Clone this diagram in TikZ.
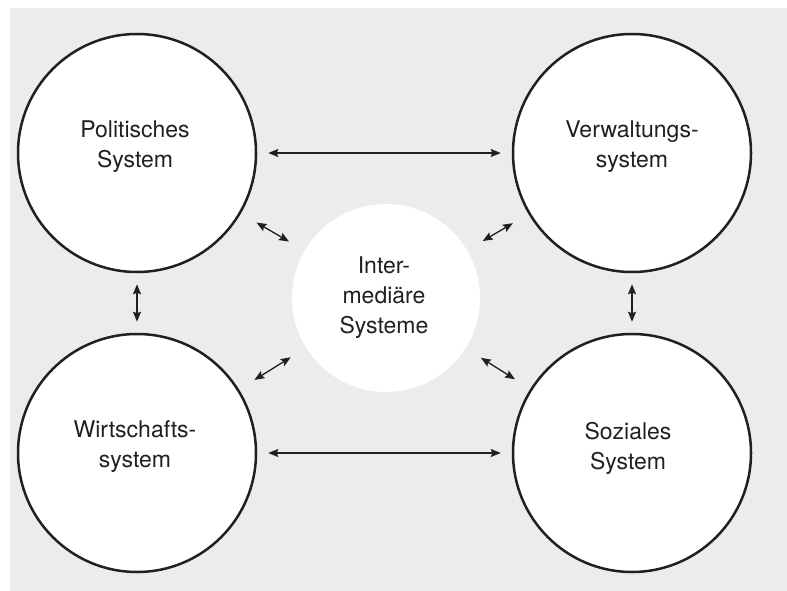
\documentclass[tikz,border=0pt]{standalone}
\usepackage{fontspec}
\setmainfont{TeX Gyre Heros}
\usetikzlibrary{arrows.meta}
\definecolor{bggray}{RGB}{236,236,236}
\definecolor{ink}{RGB}{35,31,32}
\begin{document}
\begin{tikzpicture}[x=1pt,y=-1pt,line cap=round,line join=round,>={Stealth[length=10pt,width=8pt,inset=1.5pt]},
		sys/.style={circle,draw=ink,line width=2.5pt,fill=white,minimum size=238pt,inner sep=0pt},
		mid/.style={circle,fill=white,minimum size=188pt,inner sep=0pt},
		txt/.style={text=ink,align=center,font=\fontsize{23}{30}\selectfont},
		pfeil/.style={<->,draw=ink,line width=1.3pt,shorten <=11pt,shorten >=11pt},
		schraeg/.style={pfeil,shorten <=18pt,shorten >=18pt}]
			\useasboundingbox (0,0) rectangle (787,591);
			\fill[bggray] (10,8) rectangle (787,591);
			\node[sys] (pol) at (137,153) {};
			\node[sys] (verw) at (632,153) {};
			\node[sys] (wirt) at (137,453) {};
			\node[sys] (soz) at (632,453) {};
			\node[mid] (inter) at (386,298) {};
			\node[txt] (pol-t) at (135,147) {Politisches\\System};
			\node[txt] (verw-t) at (632,147) {Verwaltungs-\\system};
			\node[txt] (wirt-t) at (135,447) {Wirtschafts-\\system};
			\node[txt] (soz-t) at (628,448) {Soziales\\System};
			\node[txt] (inter-t) at (384,298) {Inter-\\mediäre\\Systeme};
			\draw[pfeil] (pol)--(verw);
			\draw[pfeil] (wirt)--(soz);
			\draw[pfeil] (pol)--(wirt);
			\draw[pfeil] (verw)--(soz);
			\draw[schraeg] (pol)--(inter);
			\draw[schraeg] (verw)--(inter);
			\draw[schraeg] (wirt)--(inter);
			\draw[schraeg] (soz)--(inter);
		\end{tikzpicture}
\end{document}
